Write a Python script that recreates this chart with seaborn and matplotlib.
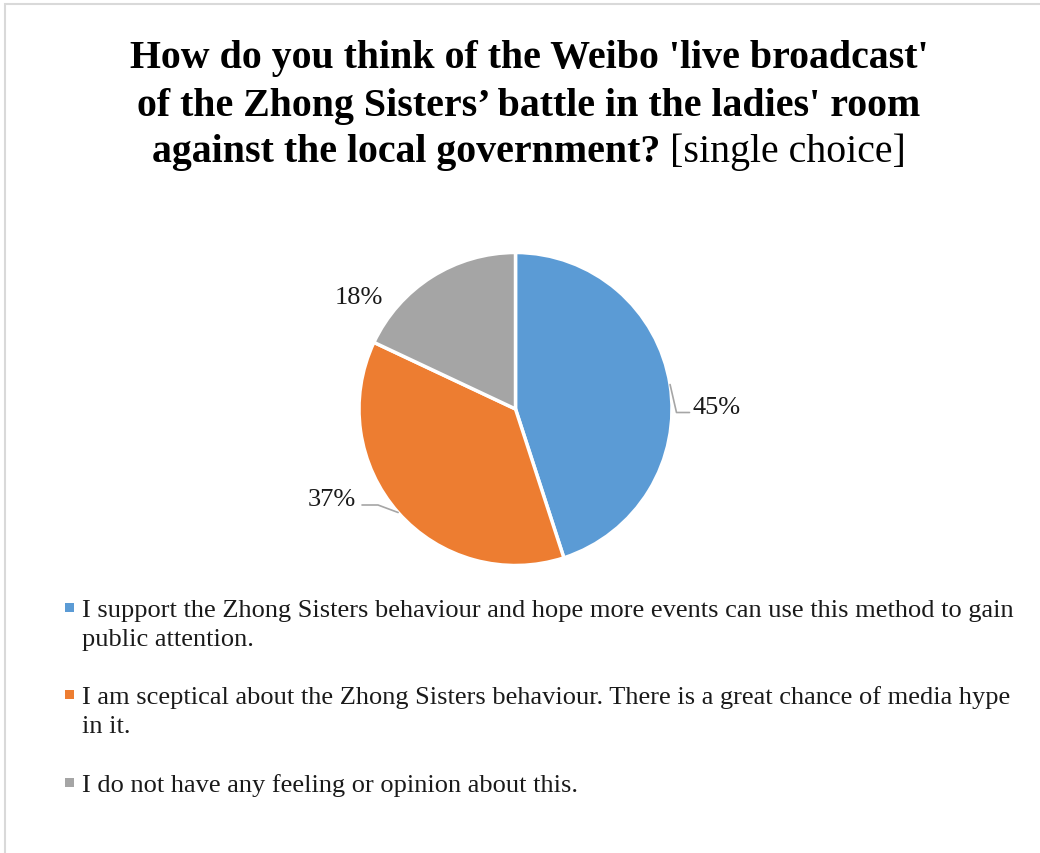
import matplotlib
matplotlib.use("Agg")
import matplotlib.pyplot as plt
import seaborn as sns
import numpy as np
from matplotlib.patches import Rectangle
from matplotlib.lines import Line2D

# ---- data -------------------------------------------------------------
categories = [
    "I support the Zhong Sisters behaviour and hope more events can use this method to gain\npublic attention.",
    "I am sceptical about the Zhong Sisters behaviour. There is a great chance of media hype\nin it.",
    "I do not have any feeling or opinion about this.",
]
shares = [45, 37, 18]
colors = ["#5B9BD5", "#ED7D31", "#A5A5A5"]
title_lines = [
    "How do you think of the Weibo 'live broadcast'",
    "of the Zhong Sisters\u2019 battle in the ladies' room",
    "against the local government?",
]
title_suffix = "[single choice]"

# ---- style ------------------------------------------------------------
sns.set_theme(style="white")
palette = sns.color_palette(colors)
plt.rcParams["font.family"] = ["Liberation Serif", "DejaVu Serif"]

W, H = 1040, 854
fig = plt.figure(figsize=(W / 100, H / 100), dpi=100)
fig.patch.set_facecolor("white")


def fx(x):
    return x / W


def fy(y):
    return 1 - y / H


# chart-area frame (only top and left edges fall inside the canvas)
fig.patches.append(Rectangle((fx(4.5), fy(H + 10)), fx(W + 20), (H + 5.5) / H,
                             transform=fig.transFigure, fill=False,
                             edgecolor="#D9D9D9", linewidth=1.5))

# ---- title ------------------------------------------------------------
title_size = 28.7
title_cx = 529
title_baselines = [68, 116, 162]
for line, yb in zip(title_lines[:2], title_baselines[:2]):
    fig.text(fx(title_cx), fy(yb), line, ha="center", va="baseline",
             fontsize=title_size, fontweight="bold", color="black")

renderer = fig.canvas.get_renderer()
t_bold = fig.text(0, fy(title_baselines[2]), title_lines[2], ha="left",
                  va="baseline", fontsize=title_size, fontweight="bold",
                  color="black")
t_norm = fig.text(0, fy(title_baselines[2]), title_suffix, ha="left",
                  va="baseline", fontsize=title_size, color="black")
w_bold = t_bold.get_window_extent(renderer).width
w_norm = t_norm.get_window_extent(renderer).width
gap = 0.25 * title_size * 100 / 72
x0 = title_cx - (w_bold + gap + w_norm) / 2
t_bold.set_x(fx(x0))
t_norm.set_x(fx(x0 + w_bold + gap))

# ---- pie --------------------------------------------------------------
cx, cy, R = 515.5, 410, 156.5
half = 230
ax = fig.add_axes([fx(cx - half), fy(cy + half), 2 * half / W, 2 * half / H])
ax.pie(shares, colors=palette, startangle=90, counterclock=False,
       radius=R, wedgeprops=dict(edgecolor="white", linewidth=2.5))
ax.set_xlim(-half, half)
ax.set_ylim(-half, half)
ax.set_aspect("equal")
ax.axis("off")

# percentage labels (offsets from pie centre, in pixels)
label_pos = [(201.5, -4), (-183.5, -95.5), (-157, 106.5)]
label_size = 19
for v, (lx, ly) in zip(shares, label_pos):
    ax.text(lx, ly, f"{v}%", ha="center", va="baseline",
            fontsize=label_size, color="#1a1a1a")

# leader lines from wedge mid-angles
total = sum(shares)
cum = np.cumsum([0] + shares)
mid = [90 - 360 * (cum[i] + shares[i] / 2) / total for i in range(len(shares))]
lead_col = "#A6A6A6"
a0 = np.radians(mid[0])
p0 = (R * np.cos(a0), R * np.sin(a0))
ax.add_line(Line2D([p0[0], 161, 174], [p0[1], -3.5, -3.5],
                   color=lead_col, linewidth=1.2))
a1 = np.radians(mid[1])
p1 = (R * np.cos(a1), R * np.sin(a1))
ax.add_line(Line2D([p1[0], -137.5, -153.5], [p1[1], -96, -96],
                   color=lead_col, linewidth=1.2))

# ---- legend -----------------------------------------------------------
leg_size = 19
leg_text_x = 82
leg_first_baselines = [617, 704, 792]
line_step = 29.5
for cat, col, yb in zip(categories, palette, leg_first_baselines):
    for k, part in enumerate(cat.split("\n")):
        fig.text(fx(leg_text_x), fy(yb + k * line_step), part, ha="left",
                 va="baseline", fontsize=leg_size, color="#1a1a1a")
    sq = 9
    fig.patches.append(Rectangle((fx(65), fy(yb - 4)), sq / W, sq / H,
                                 transform=fig.transFigure, facecolor=col,
                                 edgecolor="none"))

fig.savefig("out.png", dpi=100, facecolor="white")
